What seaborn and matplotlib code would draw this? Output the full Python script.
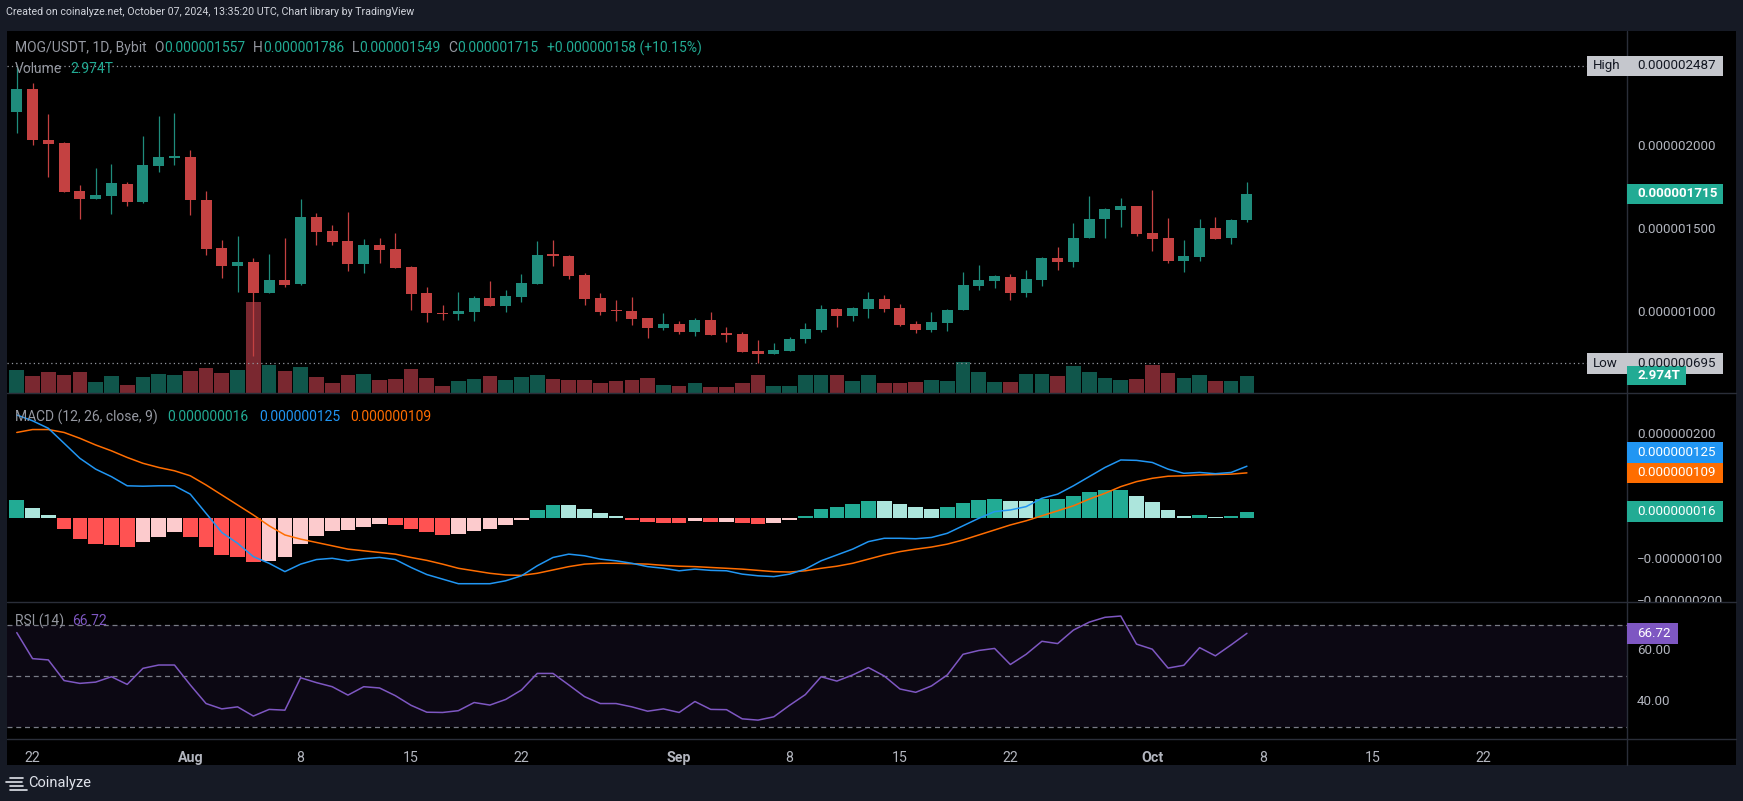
import numpy as np
import pandas as pd
import matplotlib
matplotlib.use("Agg")
import matplotlib.pyplot as plt
import seaborn as sns
from matplotlib.patches import Rectangle
from matplotlib.lines import Line2D
from matplotlib.transforms import blended_transform_factory, Bbox, TransformedBbox

# ---------------- data (prices in units of 1e-6 USDT) ----------------
start_date = "2024-07-21"
open_u = [2.211, 2.348, 2.040, 2.022, 1.733, 1.687, 1.705, 1.775, 1.669, 1.886, 1.934,
          1.938, 1.679, 1.390, 1.283, 1.305, 1.120, 1.197, 1.175, 1.577, 1.492,
          1.432, 1.295, 1.408, 1.384, 1.275, 1.119, 0.996, 0.994, 1.006, 1.089,
          1.042, 1.096, 1.175, 1.348, 1.342, 1.227, 1.089, 1.012, 1.010, 0.968,
          0.910, 0.932, 0.886, 0.956, 0.872, 0.872, 0.769, 0.753, 0.769, 0.839,
          0.898, 1.022, 0.980, 1.022, 1.082, 1.028, 0.932, 0.896, 0.938, 1.016,
          1.161, 1.191, 1.215, 1.119, 1.197, 1.329, 1.305, 1.450, 1.564, 1.618,
          1.643, 1.480, 1.450, 1.311, 1.335, 1.510, 1.450, 1.557]
high_u = [2.487, 2.386, 2.197, 2.030, 1.769, 1.873, 1.896, 1.787, 2.064, 2.185, 2.203,
          1.980, 1.733, 1.438, 1.462, 1.329, 1.354, 1.450, 1.685, 1.601, 1.528,
          1.607, 1.444, 1.450, 1.480, 1.280, 1.155, 1.046, 1.125, 1.101, 1.191,
          1.137, 1.233, 1.432, 1.438, 1.348, 1.239, 1.119, 1.077, 1.095, 0.970,
          0.998, 0.950, 0.968, 1.004, 0.914, 0.884, 0.836, 0.818, 0.853, 0.938,
          1.046, 1.028, 1.034, 1.125, 1.107, 1.052, 0.950, 1.004, 1.022, 1.245,
          1.287, 1.227, 1.233, 1.257, 1.335, 1.396, 1.540, 1.703, 1.630, 1.691,
          1.645, 1.739, 1.570, 1.438, 1.564, 1.576, 1.564, 1.786]
low_u = [2.084, 2.010, 1.819, 1.725, 1.566, 1.685, 1.596, 1.645, 1.663, 1.849, 1.892,
         1.590, 1.349, 1.211, 1.127, 0.741, 1.120, 1.157, 1.167, 1.408, 1.408,
         1.253, 1.241, 1.301, 1.271, 1.018, 0.946, 0.958, 0.958, 0.952, 1.042,
         1.006, 1.066, 1.170, 1.283, 1.203, 1.048, 0.988, 0.952, 0.928, 0.849,
         0.898, 0.873, 0.861, 0.865, 0.825, 0.763, 0.695, 0.751, 0.767, 0.819,
         0.886, 0.916, 0.950, 0.968, 1.004, 0.920, 0.878, 0.884, 0.890, 1.014,
         1.137, 1.149, 1.077, 1.095, 1.161, 1.257, 1.275, 1.448, 1.450, 1.516,
         1.462, 1.372, 1.299, 1.245, 1.311, 1.442, 1.414, 1.549]
close_u = [2.348, 2.042, 2.018, 1.729, 1.687, 1.709, 1.781, 1.669, 1.890, 1.938, 1.938,
           1.681, 1.386, 1.283, 1.305, 1.120, 1.197, 1.167, 1.577, 1.486, 1.426,
           1.295, 1.408, 1.380, 1.271, 1.114, 1.000, 0.992, 1.010, 1.089, 1.042,
           1.101, 1.179, 1.348, 1.344, 1.221, 1.084, 1.006, 1.008, 0.964, 0.910,
           0.932, 0.886, 0.956, 0.867, 0.868, 0.765, 0.753, 0.775, 0.841, 0.902,
           1.022, 0.982, 1.028, 1.082, 1.022, 0.926, 0.896, 0.944, 1.016, 1.167,
           1.197, 1.221, 1.119, 1.203, 1.329, 1.305, 1.450, 1.564, 1.624, 1.643,
           1.474, 1.444, 1.311, 1.341, 1.510, 1.444, 1.557, 1.715]
# volume in trillions (T)
volume_t = [3.90, 2.87, 3.56, 3.04, 3.56, 1.84, 2.87, 1.32, 2.70, 3.21, 3.04,
            3.73, 4.25, 3.39, 3.90, 15.59, 4.76, 3.73, 4.42, 2.70, 1.67,
            3.04, 3.21, 2.18, 2.36, 4.13, 2.58, 1.20, 2.11, 2.46, 2.97,
            2.29, 2.80, 3.15, 2.46, 2.29, 2.29, 1.77, 2.11, 2.29, 2.63,
            1.43, 1.25, 1.77, 1.08, 1.08, 1.77, 3.15, 1.25, 1.25, 3.15,
            3.15, 3.15, 2.11, 3.15, 1.77, 1.77, 1.94, 2.29, 2.11, 5.38,
            3.66, 1.94, 1.94, 3.32, 3.32, 2.97, 4.69, 3.66, 2.63, 2.29,
            2.46, 4.86, 3.49, 2.63, 3.15, 2.11, 2.11, 2.974]
# MACD values in units of 1e-9
macd_e9 = [248, 234, 216, 180, 144, 118, 100, 78, 77, 78, 78,
           58, 12, -34, -60, -92, -108, -128, -110, -99, -96,
           -102, -97, -94, -99, -118, -135, -146, -157, -157, -157,
           -150, -138, -114, -94, -86, -90, -98, -102, -108, -116,
           -120, -126, -122, -125, -126, -134, -138, -140, -134, -122,
           -102, -88, -74, -56, -48, -48, -49, -46, -36, -18,
           0, 16, 20, 28, 48, 58, 78, 100, 122, 140,
           139, 134, 118, 108, 110, 107, 110, 125]
signal_e9 = [206, 213, 213, 206, 192, 176, 162, 146, 132, 122, 114,
             102, 80, 56, 32, 8, -18, -40, -50, -58, -66,
             -74, -78, -82, -86, -94, -101, -110, -120, -126, -132,
             -136, -137, -132, -124, -116, -110, -108, -108, -109, -110,
             -113, -115, -116, -118, -120, -122, -125, -128, -129, -126,
             -120, -115, -108, -98, -88, -80, -74, -69, -62, -52,
             -40, -28, -16, -6, 6, 18, 30, 46, 60, 76,
             88, 96, 101, 102, 104, 105, 106, 109]
hist_e9 = [44, 25, 8, -25, -49, -61, -63, -68, -56, -44, -34,
           -44, -68, -87, -92, -104, -102, -94, -61, -42, -30,
           -29, -20, -13, -15, -25, -34, -39, -38, -30, -25,
           -15, -4, 20, 32, 31, 22, 13, 6, -4, -9,
           -11, -11, -6, -9, -8, -11, -14, -11, -4, 6,
           22, 27, 34, 42, 42, 34, 27, 22, 27, 37,
           44, 46, 42, 42, 46, 47, 54, 63, 68, 69,
           54, 39, 20, 6, 8, 3, 6, 16]
rsi = [67.0, 56.8, 56.3, 48.2, 47.1, 47.6, 49.7, 46.7, 53.0, 54.3, 54.3,
       46.5, 39.2, 37.1, 37.9, 34.3, 36.9, 36.6, 49.3, 47.4, 45.8,
       42.5, 45.8, 45.3, 42.3, 38.5, 35.8, 35.7, 36.4, 39.6, 38.6,
       40.8, 44.5, 51.0, 51.0, 46.5, 41.9, 39.2, 39.2, 37.9, 36.2,
       37.1, 35.7, 40.0, 36.9, 36.8, 33.2, 32.7, 34.0, 38.5, 42.7,
       49.7, 48.0, 50.4, 53.3, 50.0, 44.9, 43.6, 46.1, 50.4, 58.5,
       60.0, 60.8, 54.5, 58.5, 63.6, 62.7, 68.0, 71.1, 73.0, 73.5,
       62.5, 60.5, 53.1, 54.2, 61.1, 57.9, 62.2, 66.72]
tick_dates = ["2024-07-22", "2024-08-01", "2024-08-08", "2024-08-15", "2024-08-22",
              "2024-09-01", "2024-09-08", "2024-09-15", "2024-09-22", "2024-10-01",
              "2024-10-08", "2024-10-15", "2024-10-22"]
tick_labels = ["22", "Aug", "8", "15", "22", "Sep", "8", "15", "22", "Oct", "8", "15", "22"]
price_ticks_u = [1.0, 1.5, 2.0]
macd_ticks_e9 = [200, 100, 0, -100, -200]
rsi_ticks = [60, 40]
rsi_levels = [70, 50, 30]

# ---------------- styling ----------------
sns.set_theme(style="dark")
plt.rcParams["font.family"] = ["Roboto", "DejaVu Sans"]

W, H = 1743, 801
FRAME = "#161a25"
SEP = "#2a2e39"
AXTXT = "#b2b5be"
UP, DOWN = "#1f8c7c", "#c44141"
VUP, VDOWN = "#10564b", "#7a2830"
TEAL = "#22ab94"
FS = 9.6          # right-axis labels
FSL = 10.0        # legends
BOX_PX = 20.7

fig = plt.figure(figsize=(W / 100, H / 100), dpi=100, facecolor=FRAME)

# chart background
fig.add_artist(Rectangle((7 / W, 1 - 765 / H), 1729 / W, 734 / H, transform=fig.transFigure,
                         fc="black", ec="none", zorder=-5))

def add_pane(top, bottom, left=7, right=1627):
    ax = fig.add_axes([left / W, 1 - bottom / H, (right - left) / W, (bottom - top) / H])
    ax.set_facecolor("none")
    for s in ax.spines.values():
        s.set_visible(False)
    ax.grid(False)
    ax.set_xticks([])
    ax.set_yticks([])
    return ax

PANES = {"price": (31, 393), "macd": (393, 602), "rsi": (602, 739)}
ax_vol = add_pane(*PANES["price"])
ax_p = add_pane(*PANES["price"])
ax_m = add_pane(*PANES["macd"])
ax_r = add_pane(*PANES["rsi"])

x = np.arange(len(open_u))
o = np.array(open_u); h = np.array(high_u); l = np.array(low_u); c = np.array(close_u)
up = c >= o
XL = (-0.62, 102.1)
YL = {"price": (0.516, 2.697), "vol": (0, 62.2), "macd": (-200.9, 300.7), "rsi": (25.3, 79.0)}

def set_limits():
    for ax in (ax_vol, ax_p, ax_m, ax_r):
        ax.set_xlim(*XL)
        ax.set_xlabel(""); ax.set_ylabel("")
    ax_p.set_ylim(*YL["price"])
    ax_vol.set_ylim(*YL["vol"])
    ax_m.set_ylim(*YL["macd"])
    ax_r.set_ylim(*YL["rsi"])

set_limits()

def data_per_px(ax, pane):
    y0, y1 = ax.get_ylim()
    return (y1 - y0) / (pane[1] - pane[0])

# volume
ax_vol.bar(x, volume_t, width=0.93, color=np.where(up, VUP, VDOWN), linewidth=0)

# candles
dpp = data_per_px(ax_p, PANES["price"])
body_lo = np.minimum(o, c)
body_h = np.maximum(np.abs(c - o), 1.3 * dpp)
cols = np.where(up, UP, DOWN)
ax_p.vlines(x, l, h, colors=cols, linewidth=0.9, zorder=2)
ax_p.bar(x, body_h, bottom=body_lo, width=0.7, color=cols, linewidth=0, zorder=3)

# high / low markers
hi_val, lo_val = h.max(), l.min()
for v in (hi_val, lo_val):
    ax_p.axhline(v, xmin=0, xmax=1 - 40 / 1620, color="#9598a1", linestyle=(0, (1, 2.5)),
                 linewidth=0.9, zorder=1)

# MACD
hist = np.array(hist_e9, dtype=float)
prev = np.r_[-np.inf, hist[:-1]]
hcols = np.where(hist >= 0, np.where(prev < hist, "#22ab94", "#ace5dc"),
                 np.where(prev < hist, "#fccbcd", "#ff5252"))
ax_m.bar(x, hist, width=0.93, color=hcols, linewidth=0, zorder=1)
sns.lineplot(x=x, y=macd_e9, ax=ax_m, color="#2196f3", linewidth=1.1, zorder=3)
sns.lineplot(x=x, y=signal_e9, ax=ax_m, color="#ff6d00", linewidth=1.1, zorder=2)

# RSI
ax_r.axhspan(min(rsi_levels), max(rsi_levels), color="#7e57c2", alpha=0.1, linewidth=0, zorder=0)
for lv in rsi_levels:
    ax_r.axhline(lv, color="#787b86", linestyle=(0, (4, 3)), linewidth=0.9, zorder=1)
sns.lineplot(x=x, y=rsi, ax=ax_r, color="#7e57c2", linewidth=1.1, zorder=3)

set_limits()

# time axis labels
t0 = pd.Timestamp(start_date)
tick_pos = [(pd.Timestamp(d) - t0).days for d in tick_dates]
ax_r.set_xticks(tick_pos)
ax_r.set_xticklabels(tick_labels, color=AXTXT, fontsize=10.2)
for lab in ax_r.get_xticklabels():
    if lab.get_text().isalpha():
        lab.set_fontweight("bold")
ax_r.tick_params(axis="x", length=0, pad=8.5)

# separators
for yy in (393, 602, 739):
    fig.add_artist(Line2D([7 / W, 1736 / W], [1 - yy / H, 1 - yy / H], transform=fig.transFigure,
                          color=SEP, linewidth=1.0, zorder=1))
fig.add_artist(Line2D([1627 / W, 1627 / W], [1 - 31 / H, 1 - 765 / H], transform=fig.transFigure,
                      color=SEP, linewidth=1.0, zorder=1))

# right-axis labels
def clipbox(pane, x0=1628):
    return TransformedBbox(Bbox.from_extents(x0 / W, 1 - pane[1] / H, 1736 / W, 1 - pane[0] / H),
                           fig.transFigure)

def rtext(ax, pane, val, s, color=AXTXT, weight="normal", xpx=1637, z=3):
    tr = blended_transform_factory(fig.transFigure, ax.transData)
    t = fig.text(xpx / W, val, s, transform=tr, ha="left", va="center", color=color,
                 fontsize=FS, fontweight=weight, zorder=z)
    t.set_clip_box(clipbox(pane, x0=min(1628, xpx - 8)))
    t.set_clip_on(True)
    return t

def rbox(ax, pane, center, color, x0=1627, x1=1723, hpx=BOX_PX, z=4):
    tr = blended_transform_factory(fig.transFigure, ax.transData)
    hh = hpx * data_per_px(ax, pane)
    fig.add_artist(Rectangle((x0 / W, center - hh / 2), (x1 - x0) / W, hh, transform=tr,
                             fc=color, ec="none", zorder=z))

def free_ticks(ax, pane, ticks, boxes, min_px=15):
    dp = data_per_px(ax, pane)
    return [t for t in ticks if all(abs(t - b) / dp >= min_px for b in boxes)]

fmt = lambda v: f"{v:.9f}".replace("-", "\u2212")

# MACD box centres (signal at its value, MACD pushed above when overlapping)
mpp = data_per_px(ax_m, PANES["macd"])
sig_c = signal_e9[-1]
macd_c = max(macd_e9[-1], sig_c + BOX_PX * mpp)
hist_c = hist_e9[-1]

for v in free_ticks(ax_p, PANES["price"], price_ticks_u, [hi_val, lo_val, c[-1]]):
    rtext(ax_p, PANES["price"], v, fmt(v * 1e-6))
for v in free_ticks(ax_m, PANES["macd"], macd_ticks_e9, [macd_c, sig_c, hist_c]):
    rtext(ax_m, PANES["macd"], v, fmt(v * 1e-9))
for v in free_ticks(ax_r, PANES["rsi"], rsi_ticks, [rsi[-1]]):
    rtext(ax_r, PANES["rsi"], v, f"{v:.2f}")

# High / Low boxes
for v, name in ((hi_val, "High"), (lo_val, "Low")):
    rbox(ax_p, PANES["price"], v, "#c5c7cd", x0=1587)
    rtext(ax_p, PANES["price"], v, name, color="#131722", xpx=1593, z=5)
    rtext(ax_p, PANES["price"], v, fmt(v * 1e-6), color="#131722", z=5)

# last price box
rbox(ax_p, PANES["price"], c[-1], TEAL)
rtext(ax_p, PANES["price"], c[-1], fmt(c[-1] * 1e-6), color="white", weight="bold", z=5)

# volume box (clamped to pane bottom)
vpp = data_per_px(ax_vol, PANES["price"])
vc = max(volume_t[-1], 19.5 * vpp / 2)
rbox(ax_vol, PANES["price"], vc, TEAL, x1=1686, hpx=19.5)
rtext(ax_vol, PANES["price"], vc, f"{volume_t[-1]:.3f}T", color="white", weight="bold", z=5)

for val, colr in ((macd_c, "#2196f3"), (sig_c, "#ff6d00"), (hist_c, TEAL)):
    rbox(ax_m, PANES["macd"], val, colr)
rtext(ax_m, PANES["macd"], macd_c, fmt(macd_e9[-1] * 1e-9), color="white", z=5)
rtext(ax_m, PANES["macd"], sig_c, fmt(sig_c * 1e-9), color="white", z=5)
rtext(ax_m, PANES["macd"], hist_c, fmt(hist_c * 1e-9), color="white", z=5)

# RSI box
rbox(ax_r, PANES["rsi"], rsi[-1], "#7e57c2", x1=1678)
rtext(ax_r, PANES["rsi"], rsi[-1], f"{rsi[-1]:.2f}", color="white", z=5)

# ---------------- legends / header text ----------------
renderer = fig.canvas.get_renderer()

def runs(xpx, ypx, parts, fs=FSL):
    xx = xpx
    for s, col, gap in parts:
        t = fig.text(xx / W, 1 - ypx / H, s, color=col, fontsize=fs, ha="left", va="center",
                     zorder=6)
        xx += t.get_window_extent(renderer=renderer).width + gap

GREY = "#9598a1"
chg = c[-1] - c[-2]
pct = chg / c[-2] * 100
runs(6, 12, [("Created on coinalyze.net, October 07, 2024, 13:35:20 UTC, Chart library by TradingView",
              "#d1d4dc", 0)], fs=7.7)
runs(15, 48, [("MOG/USDT, 1D, Bybit", GREY, 8),
              ("O", GREY, 0), (f"{o[-1] * 1e-6:.9f}", TEAL, 8),
              ("H", GREY, 0), (f"{h[-1] * 1e-6:.9f}", TEAL, 8),
              ("L", GREY, 0), (f"{l[-1] * 1e-6:.9f}", TEAL, 8),
              ("C", GREY, 0), (f"{c[-1] * 1e-6:.9f}", TEAL, 8),
              (f"{chg * 1e-6:+.9f} ({pct:+.2f}%)", TEAL, 0)])
runs(15, 69, [("Volume", GREY, 8), (f"{volume_t[-1]:.3f}T", TEAL, 0)])
runs(15, 417, [("MACD (12, 26, close, 9)", GREY, 10),
               (fmt(hist_e9[-1] * 1e-9), TEAL, 10),
               (fmt(macd_e9[-1] * 1e-9), "#2196f3", 10),
               (fmt(signal_e9[-1] * 1e-9), "#ff6d00", 0)])
runs(15, 621, [("RSI (14)", GREY, 8), (f"{rsi[-1]:.2f}", "#7e57c2", 0)])

# Coinalyze footer logo
for yy, xa, xb in ((777.5, 10, 23), (781.5, 6, 22), (785.5, 10, 23), (789.5, 10, 27)):
    fig.add_artist(Line2D([xa / W, xb / W], [1 - yy / H, 1 - yy / H], transform=fig.transFigure,
                          color="#e0e3eb", linewidth=1.2))
runs(28, 783, [("Coinalyze", "#e0e3eb", 0)], fs=10.5)

fig.savefig("out.png", dpi=100, facecolor=FRAME)
